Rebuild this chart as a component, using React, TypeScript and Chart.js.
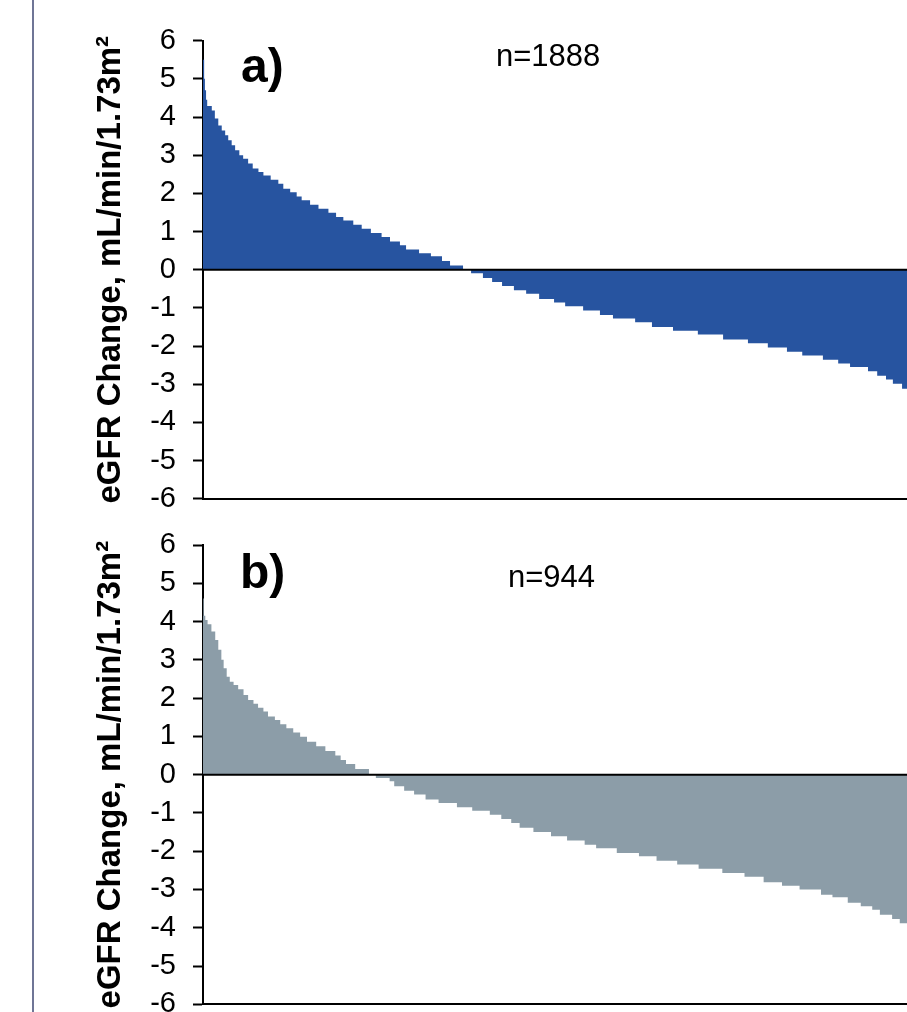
import { useEffect, useRef } from "react";
import { Chart, registerables } from "chart.js";

Chart.register(...registerables);

// Y axis ticks (both panels)
const yTickValues = [-6, -5, -4, -3, -2, -1, 0, 1, 2, 3, 4, 5, 6];
const yAxisTitle = "eGFR Change, mL/min/1.73m\u00B2";

// Panel a) — patient rank where each step starts, and eGFR change for that step
const nA = 1888;
const rankA = [0, 3, 5, 8, 11, 23, 31, 40, 49, 58, 66, 75, 84, 95, 105, 118, 130, 145, 158, 177, 197, 210, 228, 245, 258, 280, 302, 328, 348, 367, 393, 415, 439, 467, 489, 515, 531, 565, 596, 625, 646, 680, 701, 732, 756, 782, 813, 845, 879, 918, 947, 994, 1038, 1072, 1130, 1174, 1229, 1294, 1360, 1425, 1477, 1527, 1567, 1621, 1661, 1692, 1739, 1763, 1786, 1804, 1828, 1844, 1857, 1870, 1880];
const valA = [5.5, 5.0, 4.7, 4.45, 4.29, 4.17, 3.96, 3.78, 3.65, 3.52, 3.39, 3.26, 3.13, 3.0, 2.91, 2.78, 2.65, 2.56, 2.47, 2.36, 2.25, 2.12, 2.03, 1.92, 1.82, 1.7, 1.6, 1.49, 1.38, 1.29, 1.18, 1.07, 0.96, 0.86, 0.74, 0.64, 0.53, 0.43, 0.35, 0.23, 0.11, 0, -0.09, -0.22, -0.32, -0.43, -0.54, -0.63, -0.77, -0.86, -0.96, -1.07, -1.19, -1.28, -1.38, -1.5, -1.6, -1.7, -1.83, -1.93, -2.04, -2.15, -2.25, -2.36, -2.46, -2.55, -2.66, -2.78, -2.88, -2.99, -3.12, -3.3, -3.6, -4.1, -5.2];

// Panel b)
const nB = 944;
const rankB = [0, 1, 3, 6, 11, 16, 20, 24, 27, 31, 35, 40, 46, 53, 59, 66, 72, 79, 85, 94, 101, 109, 118, 127, 136, 148, 160, 173, 180, 187, 199, 217, 226, 244, 250, 263, 276, 291, 308, 332, 352, 375, 390, 403, 414, 432, 455, 476, 499, 514, 541, 570, 593, 620, 648, 679, 708, 733, 757, 780, 808, 823, 843, 860, 875, 885, 901, 911, 922, 930, 936, 941];
const valB = [4.6, 4.15, 4.04, 3.93, 3.74, 3.52, 3.26, 3.0, 2.78, 2.56, 2.43, 2.34, 2.23, 2.08, 1.95, 1.85, 1.75, 1.65, 1.52, 1.43, 1.32, 1.21, 1.1, 0.99, 0.86, 0.74, 0.62, 0.5, 0.38, 0.28, 0.15, 0, -0.09, -0.17, -0.3, -0.42, -0.52, -0.65, -0.74, -0.85, -0.94, -1.05, -1.16, -1.26, -1.39, -1.5, -1.61, -1.72, -1.83, -1.92, -2.05, -2.13, -2.25, -2.35, -2.46, -2.57, -2.67, -2.81, -2.9, -3.0, -3.14, -3.2, -3.35, -3.44, -3.53, -3.66, -3.77, -3.88, -4.0, -4.3, -4.8, -5.6];

const FONT = '"Liberation Sans", Arial, Helvetica, sans-serif';

const overlayPlugin = {
  id: "overlay",
  afterDatasetsDraw(chart: any, _args: any, opts: any) {
    const { ctx, chartArea, scales } = chart;
    const y0 = scales.y.getPixelForValue(0);
    ctx.save();
    ctx.strokeStyle = "#000";
    ctx.lineWidth = 2;
    ctx.beginPath();
    ctx.moveTo(chartArea.left, y0);
    ctx.lineTo(chartArea.right, y0);
    ctx.stroke();
    ctx.fillStyle = "#000";
    ctx.textBaseline = "alphabetic";
    ctx.textAlign = "left";
    ctx.font = `bold 48px ${FONT}`;
    ctx.fillText(opts.panel, chartArea.left + opts.pDx, chartArea.top + opts.pDy);
    ctx.font = `31px ${FONT}`;
    ctx.fillText(opts.nText, chartArea.left + opts.nDx, chartArea.top + opts.nDy);
    ctx.restore();
  },
};

type PanelProps = {
  ranks: number[];
  values: number[];
  n: number;
  color: string;
  top: number;
  padTop: number;
  padBottom: number;
  panel: string;
  pDx: number;
  pDy: number;
  nDx: number;
  nDy: number;
};

function Panel(p: PanelProps) {
  const ref = useRef<HTMLCanvasElement | null>(null);
  useEffect(() => {
    if (!ref.current) return;
    const pts = p.ranks.map((r, i) => ({ x: r, y: p.values[i] }));
    pts.push({ x: p.n, y: p.values[p.values.length - 1] });
    const chart = new Chart(ref.current, {
      type: "line",
      data: {
        datasets: [
          {
            data: pts,
            stepped: "before",
            fill: "origin",
            backgroundColor: p.color,
            borderColor: "transparent",
            borderWidth: 0,
            pointRadius: 0,
            tension: 0,
          },
        ],
      },
      options: {
        animation: false,
        responsive: false,
        devicePixelRatio: 1,
        layout: { padding: { left: 91, right: 15, top: p.padTop, bottom: p.padBottom } },
        plugins: {
          legend: { display: false },
          tooltip: { enabled: false },
          overlay: { panel: p.panel, pDx: p.pDx, pDy: p.pDy, nText: "n=" + p.n, nDx: p.nDx, nDy: p.nDy },
        } as any,
        scales: {
          x: {
            type: "linear",
            min: 0,
            max: p.n,
            ticks: { display: false },
            grid: { display: false, drawTicks: false },
            border: { display: true, color: "#000", width: 2 },
          },
          y: {
            type: "linear",
            min: -6,
            max: 6,
            afterBuildTicks: (scale: any) => {
              scale.ticks = yTickValues.map((v) => ({ value: v }));
            },
            afterFit: (scale: any) => {
              scale.width = 112;
              scale.paddingTop = 0;
              scale.paddingBottom = 0;
            },
            ticks: {
              color: "#000",
              font: { family: FONT, size: 29 },
              padding: 17,
            },
            grid: {
              drawOnChartArea: false,
              drawTicks: true,
              tickLength: 10,
              tickWidth: 2,
              tickColor: "#000",
            },
            border: { display: true, color: "#000", width: 2 },
            title: {
              display: true,
              text: yAxisTitle,
              color: "#000",
              font: { family: FONT, size: 33, weight: "bold" },
              padding: 0,
            },
          },
        },
      },
      plugins: [overlayPlugin],
    });
    return () => chart.destroy();
  }, []);
  return (
    <canvas
      ref={ref}
      width={940}
      height={520}
      style={{ position: "absolute", left: 0, top: p.top, width: 940, height: 520 }}
    />
  );
}

export default function App() {
  return (
    <div
      style={{
        position: "absolute",
        left: 0,
        top: 0,
        width: 907,
        height: 1012,
        overflow: "hidden",
        background: "#fff",
      }}
    >
      <div style={{ position: "absolute", left: 32, top: 0, width: 2, height: 1012, background: "#6F7596" }} />
      <Panel
        ranks={rankA}
        values={valA}
        n={nA}
        color="#2754A0"
        top={0}
        padTop={40.7}
        padBottom={21.3}
        panel="a)"
        pDx={38}
        pDy={41}
        nDx={293}
        nDy={25.5}
      />
      <Panel
        ranks={rankB}
        values={valB}
        n={nB}
        color="#8C9DA8"
        top={505}
        padTop={40}
        padBottom={20.7}
        panel="b)"
        pDx={37}
        pDy={43}
        nDx={305}
        nDy={42}
      />
    </div>
  );
}
